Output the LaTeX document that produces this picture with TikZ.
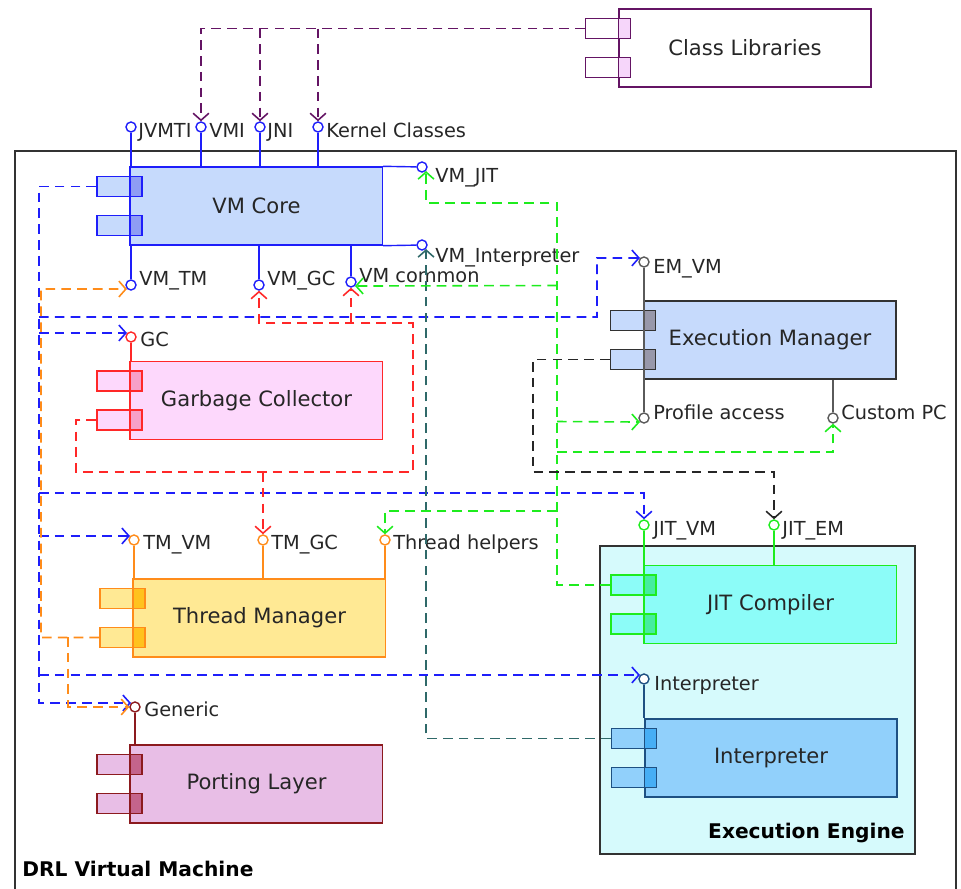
\documentclass[tikz,border=0pt]{standalone}
\usepackage{fontspec}
\setmainfont{DejaVu Sans}
\usetikzlibrary{arrows.meta}

\definecolor{vmLine}{RGB}{30,30,250}
\definecolor{vmFill}{RGB}{198,218,252}
\definecolor{vmPort}{RGB}{142,156,244}
\definecolor{gcLine}{RGB}{255,40,40}
\definecolor{gcFill}{RGB}{253,216,252}
\definecolor{gcPort}{RGB}{247,160,200}
\definecolor{tmLine}{RGB}{255,140,26}
\definecolor{tmFill}{RGB}{255,233,148}
\definecolor{tmPort}{RGB}{255,194,30}
\definecolor{plLine}{RGB}{140,26,30}
\definecolor{plFill}{RGB}{232,190,230}
\definecolor{plPort}{RGB}{196,100,140}
\definecolor{emLine}{RGB}{50,50,50}
\definecolor{emFill}{RGB}{198,218,252}
\definecolor{emPort}{RGB}{152,152,170}
\definecolor{jitLine}{RGB}{30,236,30}
\definecolor{jitFill}{RGB}{140,252,248}
\definecolor{jitPort}{RGB}{70,236,160}
\definecolor{intLine}{RGB}{30,80,130}
\definecolor{intFill}{RGB}{145,208,251}
\definecolor{intPort}{RGB}{70,174,245}
\definecolor{clLine}{RGB}{100,20,100}
\definecolor{clFill}{RGB}{255,255,255}
\definecolor{clPort}{RGB}{246,214,250}
\definecolor{eeFill}{RGB}{214,250,252}
\definecolor{frameLine}{RGB}{50,50,50}
\definecolor{emIface}{RGB}{90,90,90}
\definecolor{tealDash}{RGB}{47,105,105}

\newcommand\boxfont{\fontsize{12}{14}\selectfont}
\newcommand\lblfont{\fontsize{11}{13}\selectfont}
\newcommand\titlefont{\fontsize{11.5}{13}\selectfont\bfseries}

\begin{document}
\begin{tikzpicture}
  [x=0.02cm,y=-0.02cm,
   comp/.style={draw=#1Line,fill=#1Fill,line width=0.8pt,minimum width=5.04cm,
     minimum height=1.56cm,inner sep=0pt,font=\boxfont,text=black!85},
   port/.style={draw=#1Line,fill=#1Fill,line width=0.8pt,minimum width=0.9cm,
     minimum height=0.4cm,inner sep=0pt,
     path picture={\fill[#1Port] ([xshift=-0.24cm]path picture bounding box.north east)
       rectangle (path picture bounding box.south east);}},
   iface/.style={circle,draw=#1,fill=white,line width=0.8pt,minimum size=0.2cm,inner sep=0pt},
   ilabel/.style={anchor=base west,inner sep=0pt,font=\lblfont,text=black!85},
   dep/.style={draw=#1,line width=0.9pt,dash pattern=on 5.5pt off 3.5pt,
     -{Straight Barb[length=4pt,width=9pt]}}]
  \useasboundingbox (0,0) rectangle (961,889);

  \node (drl)[draw=frameLine,line width=0.8pt,minimum width=18.82cm,minimum height=14.98cm] at (485.5,525.5) {};
  \node (drlL)[anchor=base west,inner sep=0pt,font=\titlefont] at (22,876) {DRL Virtual Machine};
  \node (ee)[draw=frameLine,fill=eeFill,line width=0.8pt,minimum width=6.3cm,minimum height=6.16cm] at (757.5,700) {};
  \node (eeL)[anchor=base east,inner sep=0pt,font=\titlefont] at (905,838) {Execution Engine};

  \node (cl)[comp=cl] at (745,48) {Class Libraries};
  \node (vmcore)[comp=vm] at (256.5,206) {VM Core};
  \node (em)[comp=em] at (770,340) {Execution Manager};
  \node (gc)[comp=gc] at (256.5,400.5) {Garbage Collector};
  \node (tm)[comp=tm] at (259.5,618) {Thread Manager};
  \node (pl)[comp=pl] at (256.5,784) {Porting Layer};
  \node (jit)[comp=jit] at (770.5,604.5) {JIT Compiler};
  \node (interp)[comp=int] at (771,758) {Interpreter};

  \foreach \c/\k in {cl/cl,vmcore/vm,em/em,gc/gc,tm/tm,pl/pl,jit/jit,interp/int}{
    \node (\c-p1)[port=\k] at ([shift={(-10.5,-19.5)}]\c.west) {};
    \node (\c-p2)[port=\k] at ([shift={(-10.5,19.5)}]\c.west) {};
    \draw[draw=\k Line,line width=0.8pt] (\c.north west) -- (\c.south west);
  }

  \node (jvmti)[iface=vmLine] at (131,127) {};
  \node (vmi)[iface=vmLine] at (201,127) {};
  \node (jni)[iface=vmLine] at (260,127) {};
  \node (kernel)[iface=vmLine] at (318,127) {};
  \node (vmjit)[iface=vmLine] at (422,167) {};
  \node (vminterp)[iface=vmLine] at (422,245) {};
  \node (vmtm)[iface=vmLine] at (131,285) {};
  \node (vmgc)[iface=vmLine] at (259,285) {};
  \node (vmcommon)[iface=vmLine] at (351,282) {};
  \node (emvm)[iface=emIface] at (644,262) {};
  \node (profile)[iface=emIface] at (644,418) {};
  \node (custompc)[iface=emIface] at (833,418) {};
  \node (gcI)[iface=gcLine] at (131,337) {};
  \node (tmvm)[iface=tmLine] at (134,540) {};
  \node (tmgc)[iface=tmLine] at (263,540) {};
  \node (helpers)[iface=tmLine] at (385,540) {};
  \node (jitvm)[iface=jitLine] at (644,525) {};
  \node (jitem)[iface=jitLine] at (774,525) {};
  \node (interpI)[iface=intLine] at (644,679) {};
  \node (generic)[iface=plLine] at (135,707) {};

  \begin{scope}[line width=0.8pt]
    \foreach \i in {jvmti,vmi,jni,kernel} \draw[vmLine] (\i) -- (\i |- vmcore.north);
    \foreach \i in {vmtm,vmgc,vmcommon} \draw[vmLine] (\i) -- (\i |- vmcore.south);
    \draw[vmLine] (vmcore.north east) -- (vmjit);
    \draw[vmLine] (vmcore.south east) -- (vminterp);
    \draw[emIface] (emvm) -- (profile);
    \draw[emIface] (custompc) -- (custompc |- em.south);
    \draw[gcLine] (gcI) -- (gcI |- gc.north);
    \foreach \i in {tmvm,tmgc,helpers} \draw[tmLine] (\i) -- (\i |- tm.north);
    \foreach \i in {jitvm,jitem} \draw[jitLine] (\i) -- (\i |- jit.north);
    \draw[intLine] (interpI) -- (interpI |- interp.north);
    \draw[plLine] (generic) -- (generic |- pl.north);
  \end{scope}

  \node (jvmtiL)[ilabel] at (138,137) {JVMTI};
  \node (vmiL)[ilabel] at (209,137) {VMI};
  \node (jniL)[ilabel] at (267,137) {JNI};
  \node (kernelL)[ilabel] at (326,137) {Kernel Classes};
  \node (vmjitL)[ilabel] at (435,182) {VM\_JIT};
  \node (vminterpL)[ilabel] at (435,262) {VM\_Interpreter};
  \node (vmtmL)[ilabel] at (139,285) {VM\_TM};
  \node (vmgcL)[ilabel] at (267,285) {VM\_GC};
  \node (vmcommonL)[ilabel] at (359,282) {VM common};
  \node (emvmL)[ilabel] at (653,273) {EM\_VM};
  \node (profileL)[ilabel] at (653,419) {Profile access};
  \node (custompcL)[ilabel] at (841,419) {Custom PC};
  \node (gcIL)[ilabel] at (140,346) {GC};
  \node (tmvmL)[ilabel] at (143,549) {TM\_VM};
  \node (tmgcL)[ilabel] at (271,549) {TM\_GC};
  \node (helpersL)[ilabel] at (393,549) {Thread helpers};
  \node (jitvmL)[ilabel] at (653,535) {JIT\_VM};
  \node (jitemL)[ilabel] at (782,535) {JIT\_EM};
  \node (interpIL)[ilabel] at (654,690) {Interpreter};
  \node (genericL)[ilabel] at (144,716) {Generic};

  \draw[dep=clLine] (cl-p1.west) -| (vmi);
  \foreach \i in {jni,kernel} \draw[dep=clLine] (\i |- cl-p1.west) -- (\i);

  \coordinate (trunk) at (39,0);
  \draw[dep=vmLine] (vmcore-p1.west) -| (trunk |- generic.north west) -- (generic.north west);
  \foreach \i in {gcI,tmvm,interpI} \draw[dep=vmLine] (trunk |- \i.north west) -- (\i.north west);
  \draw[dep=vmLine] (39,317) -| (597,258) -- (emvm.north west);
  \draw[dep=vmLine] (39,493) -| (jitvm);

  \draw[dep=tmLine] (tm-p2.west) -| (41,289) -- (vmtm.south west);
  \draw[dep=tmLine] (68,637) |- (generic.west);

  \draw[dep=gcLine] (gc-p2.west) -| (76,472) -| (413,323) -| (vmgc);
  \draw[dep=gcLine] (351,323) -- (vmcommon);
  \draw[dep=gcLine] (263,472) -- (tmgc);

  \draw[dep=tealDash] (interp-p1.west) -| (vminterp.south east);

  \draw[dep=jitLine] (jit-p1.west) -| (557,203) -| (vmjit.south east);
  \draw[dep=jitLine] (557,285.5) -- (vmcommon.south east);
  \draw[dep=jitLine] (557,421.5) -- (profile.south west);
  \draw[dep=jitLine] (557,452) -| (custompc);
  \draw[dep=jitLine] (557,511) -| (helpers);

  \draw[dep=black!85] (em-p2.west) -| (533,472) -| (jitem);
\end{tikzpicture}
\end{document}
